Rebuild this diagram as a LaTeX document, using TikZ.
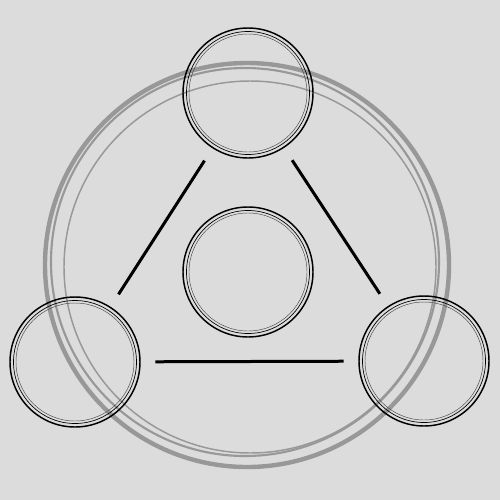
\documentclass[tikz,border=0pt]{standalone}
\usetikzlibrary{positioning}
\definecolor{bgGray}{RGB}{220,220,220}
\definecolor{ringGray}{RGB}{152,152,152}
\tikzset{
  ring/.style={circle, draw=black, line width=1.1pt, minimum size=97.5pt, inner sep=0pt},
  link/.style={line width=2.25pt, shorten >=11pt, shorten <=11pt},
}
\begin{document}
\begin{tikzpicture}[x=0.75pt,y=0.75pt,yscale=-1,xscale=1]
        %Background
        \fill [bgGray] (0,0) rectangle (500,500) ;

        %Big gray ring, drawn three times for a hand-made look
        \draw [ringGray, line width=3.3pt] (247,265) circle (202) ;
        \draw [ringGray, line width=1.6pt] (245,262) circle (194) ;
        \draw [ringGray, line width=1.1pt] (250,267) circle (186) ;

        %Four circles
        \node [ring] (top) at (248,93) {} ;
        \node [ring] (mid) at (248,272) {} ;
        \node [ring] (left) at (75,362) {} ;
        \node [ring] (right) at (424,361) {} ;
        %inner strokes
        \foreach \n in {top,mid,left,right} {
          \draw [line width=0.5pt] (\n.center) circle (61.5) ;
          \draw [line width=0.35pt, black!70] (\n.center) circle (59) ;
        }

        %Triangle sides
        \draw [link] (top) -- (left) ;
        \draw [link] (top) -- (right) ;
        \draw [link] (left) -- (right) ;
\end{tikzpicture}
\end{document}
